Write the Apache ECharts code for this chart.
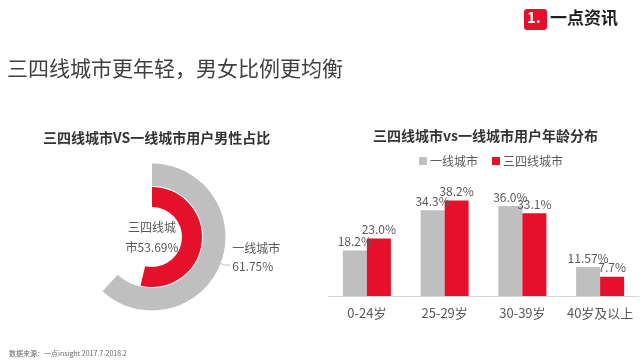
<!DOCTYPE html>
<html><head><meta charset="utf-8">
<script src="https://cdn.jsdelivr.net/npm/echarts@6/dist/echarts.min.js"></script>
<style>html,body{margin:0;padding:0;background:#fff;}#c{width:640px;height:360px;}</style>
</head><body><div id="c"></div>
<script>
const ageCategories = ['0-24岁', '25-29岁', '30-39岁', '40岁及以上'];
const tier1Name = '一线城市';
const tier34Name = '三四线城市';
const tier1AgeValues = [18.2, 34.3, 36.0, 11.57];
const tier34AgeValues = [23.0, 38.2, 33.1, 7.7];
const tier1MaleShare = 61.75;
const tier34MaleShare = 53.69;

const FONT = '"Noto Sans CJK SC", "Noto Sans", sans-serif';
const GRAY = '#BFBFBF';
const RED = '#E5112B';
const TXT = '#595959';

function fmtPct(v) {
  const t = v * 10;
  return (Math.abs(t - Math.round(t)) < 1e-9 ? v.toFixed(1) : String(v)) + '%';
}

const chart = echarts.init(document.getElementById('c'));
chart.setOption({
  animation: false,
  backgroundColor: '#fff',
  textStyle: { fontFamily: FONT },
  title: [
    { text: '三四线城市更年轻，男女比例更均衡', left: 2, top: 53,
      textStyle: { fontFamily: FONT, fontSize: 21, fontWeight: 'normal', color: '#404040' } },
    { text: '三四线城市VS一线城市用户男性占比', left: 38, top: 126,
      textStyle: { fontFamily: FONT, fontSize: 14, fontWeight: 'bold', color: '#333' } },
    { text: '三四线城市vs一线城市用户年龄分布', left: 368, top: 124,
      textStyle: { fontFamily: FONT, fontSize: 14, fontWeight: 'bold', color: '#333' } },
    { text: '数据来源：一点insight 2017.7-2018.2', left: 4, top: 345,
      textStyle: { fontFamily: FONT, fontSize: 7, fontWeight: 'normal', color: '#666' } }
  ],
  graphic: [
    { type: 'rect', left: 524, top: 9, shape: { width: 23, height: 21, r: 3 }, style: { fill: '#E5112B' } },
    { type: 'text', left: 527, top: 10, style: { text: '1.', fill: '#fff', font: 'bold 15px ' + FONT } },
    { type: 'text', left: 550, top: 9, style: { text: '一点资讯', fill: '#222', font: 'bold 17px ' + FONT } }
  ],
  legend: {
    left: 414, top: 150, itemWidth: 8, itemHeight: 8, itemGap: 14,
    icon: 'rect',
    textStyle: { fontFamily: FONT, fontSize: 12, color: TXT, padding: [0, 0, 0, -2] },
    data: [tier1Name, tier34Name]
  },
  grid: { left: 328, right: 1, top: 196, bottom: 64 },
  xAxis: {
    type: 'category', data: ageCategories,
    axisLine: { lineStyle: { color: '#D9D9D9' } },
    axisTick: { show: false },
    axisLabel: { color: TXT, fontSize: 13, margin: 11, fontFamily: FONT, interval: 0 }
  },
  yAxis: { type: 'value', min: 0, max: 40, show: false, splitLine: { show: false } },
  series: [
    { name: tier1Name, type: 'bar', data: tier1AgeValues, barWidth: 24, barGap: '0%',
      itemStyle: { color: GRAY },
      label: { show: true, position: 'top', distance: 3, color: TXT, fontSize: 12, fontFamily: FONT,
        formatter: p => fmtPct(p.value) } },
    { name: tier34Name, type: 'bar', data: tier34AgeValues, barWidth: 24, barGap: '0%',
      itemStyle: { color: RED },
      label: { show: true, position: 'top', distance: 3, color: TXT, fontSize: 12, fontFamily: FONT,
        formatter: p => fmtPct(p.value) } },
    { type: 'pie', center: [152, 237], radius: [51, 73.5], startAngle: 90, clockwise: true,
      silent: true, legendHoverLink: false,
      labelLine: { show: true, length: 4, length2: 6, lineStyle: { color: '#BFBFBF', width: 1 } },
      labelLayout: { dy: -8, dx: -3 },
      data: [
        { name: tier1Name, value: tier1MaleShare, itemStyle: { color: GRAY },
          label: { show: true, position: 'outside', color: TXT, fontSize: 12, lineHeight: 18, fontFamily: FONT,
            formatter: p => p.name + '\n' + p.value + '%' } },
        { name: '其余1', value: 100 - tier1MaleShare, itemStyle: { color: 'rgba(0,0,0,0)' },
          label: { show: false }, labelLine: { show: false } }
      ] },
    { type: 'pie', center: [152, 237], radius: [30, 50], startAngle: 90, clockwise: true,
      silent: true, legendHoverLink: false,
      data: [
        { name: tier34Name, value: tier34MaleShare, itemStyle: { color: RED },
          label: { show: true, position: 'center', color: TXT, fontSize: 12, lineHeight: 20, fontFamily: FONT,
            formatter: p => p.name.slice(0, 4) + '\n' + p.name.slice(4) + p.value + '%' } },
        { name: '其余2', value: 100 - tier34MaleShare, itemStyle: { color: 'rgba(0,0,0,0)' },
          label: { show: false } }
      ] }
  ]
});
</script></body></html>
